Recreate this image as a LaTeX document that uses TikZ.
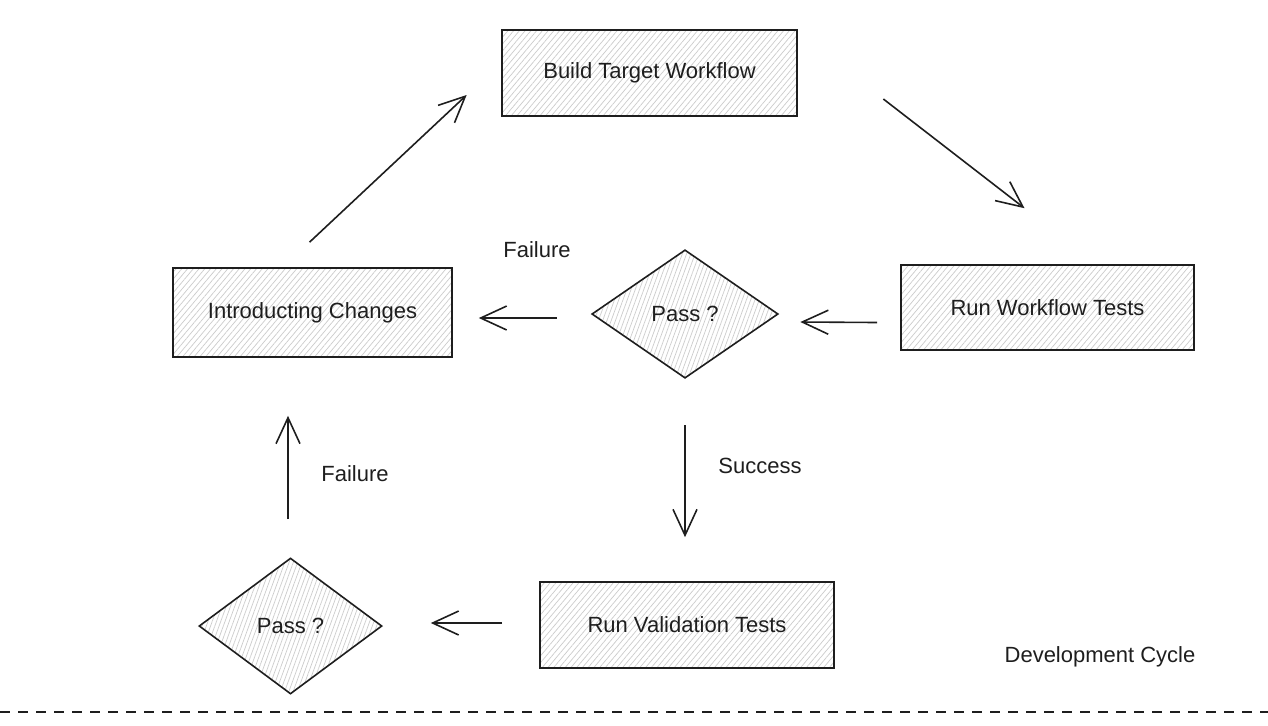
\documentclass[tikz,border=0pt]{standalone}
\usepackage{fontspec}
\setmainfont{Liberation Sans}
\usetikzlibrary{shapes.geometric,arrows.meta,patterns.meta,calc}
\definecolor{ink}{HTML}{1E1E1E}
\tikzset{
  x=0.5pt, y=-0.5pt,
  hatchbox/.style={draw=ink, line width=0.8pt, rectangle, inner sep=0pt,
    preaction={fill=white},
    pattern={Lines[angle=50, distance=2.2pt, line width=0.35pt]}, pattern color=black!20,
    font=\fontsize{11}{13}\selectfont, text=ink},
  hatchdia/.style={draw=ink, line width=0.8pt, diamond, inner sep=0pt,
    preaction={fill=white},
    pattern={Lines[angle=70, distance=2pt, line width=0.35pt]}, pattern color=black!20,
    font=\fontsize{11}{13}\selectfont, text=ink},
  arr/.style={draw=ink, line width=0.8pt, -{Straight Barb[length=13pt, width=12pt, line width=0.8pt]}},
  lbl/.style={font=\fontsize{11}{13}\selectfont, text=ink, inner sep=0pt}
}
\begin{document}
\begin{tikzpicture}
\useasboundingbox (0,0) rectangle (1268,725);
% nodes
\node[hatchbox, minimum width=147.5pt, minimum height=43pt] (build) at (649.5,73) {Build Target Workflow};
\node[hatchbox, minimum width=146.5pt, minimum height=42.5pt] (runwf) at (1047.5,307.5) {Run Workflow Tests};
\node[hatchbox, minimum width=139.5pt, minimum height=44.5pt] (intro) at (312.5,312.5) {Introducting Changes};
\node[hatchdia, minimum width=93pt, minimum height=64pt] (tdia) at (685,314) {Pass ?};
\node[hatchbox, minimum width=147pt, minimum height=43pt] (runval) at (687,625) {Run Validation Tests};
\node[hatchdia, minimum width=91.5pt, minimum height=68pt] (bdia) at (290.5,626) {Pass ?};
% labels
\node[lbl] (fail1) at (537,250) {Failure};
\node[lbl] (fail2) at (355,474) {Failure};
\node[lbl] (succ) at (760,466) {Success};
\node[lbl] (cycle) at (1100,657) {Development Cycle};
% connectors
\draw[arr] ($(intro.north)+(-3,-25)$) -- ($(build.west)+(-35,22)$);
\draw[arr] ($(build.east)+(86,26)$) -- ($(runwf.north)+(-23,-56)$);
\draw[arr] ($(runwf.west)+(-23,15)$) -- ($(tdia.east)+(22,8)$);
\draw[arr] ($(tdia.west)+(-35,4)$) -- ($(intro.east)+(26,5.5)$);
\draw[arr] ($(tdia.south)+(0,47)$) -- ($(runval.north)+(-2,-44)$);
\draw[arr] ($(runval.west)+(-37,-2)$) -- ($(bdia.east)+(48,-3)$);
\draw[arr] ($(bdia.north)+(-2.5,-38)$) -- ($(intro.south)+(-24.5,58)$);
% dashed separator
\coordinate (sepL) at (0,712);
\coordinate (sepR) at (1268,712);
\draw[draw=ink, line width=0.8pt, dash pattern=on 5pt off 4pt] (sepL) -- (sepR);
\end{tikzpicture}
\end{document}
